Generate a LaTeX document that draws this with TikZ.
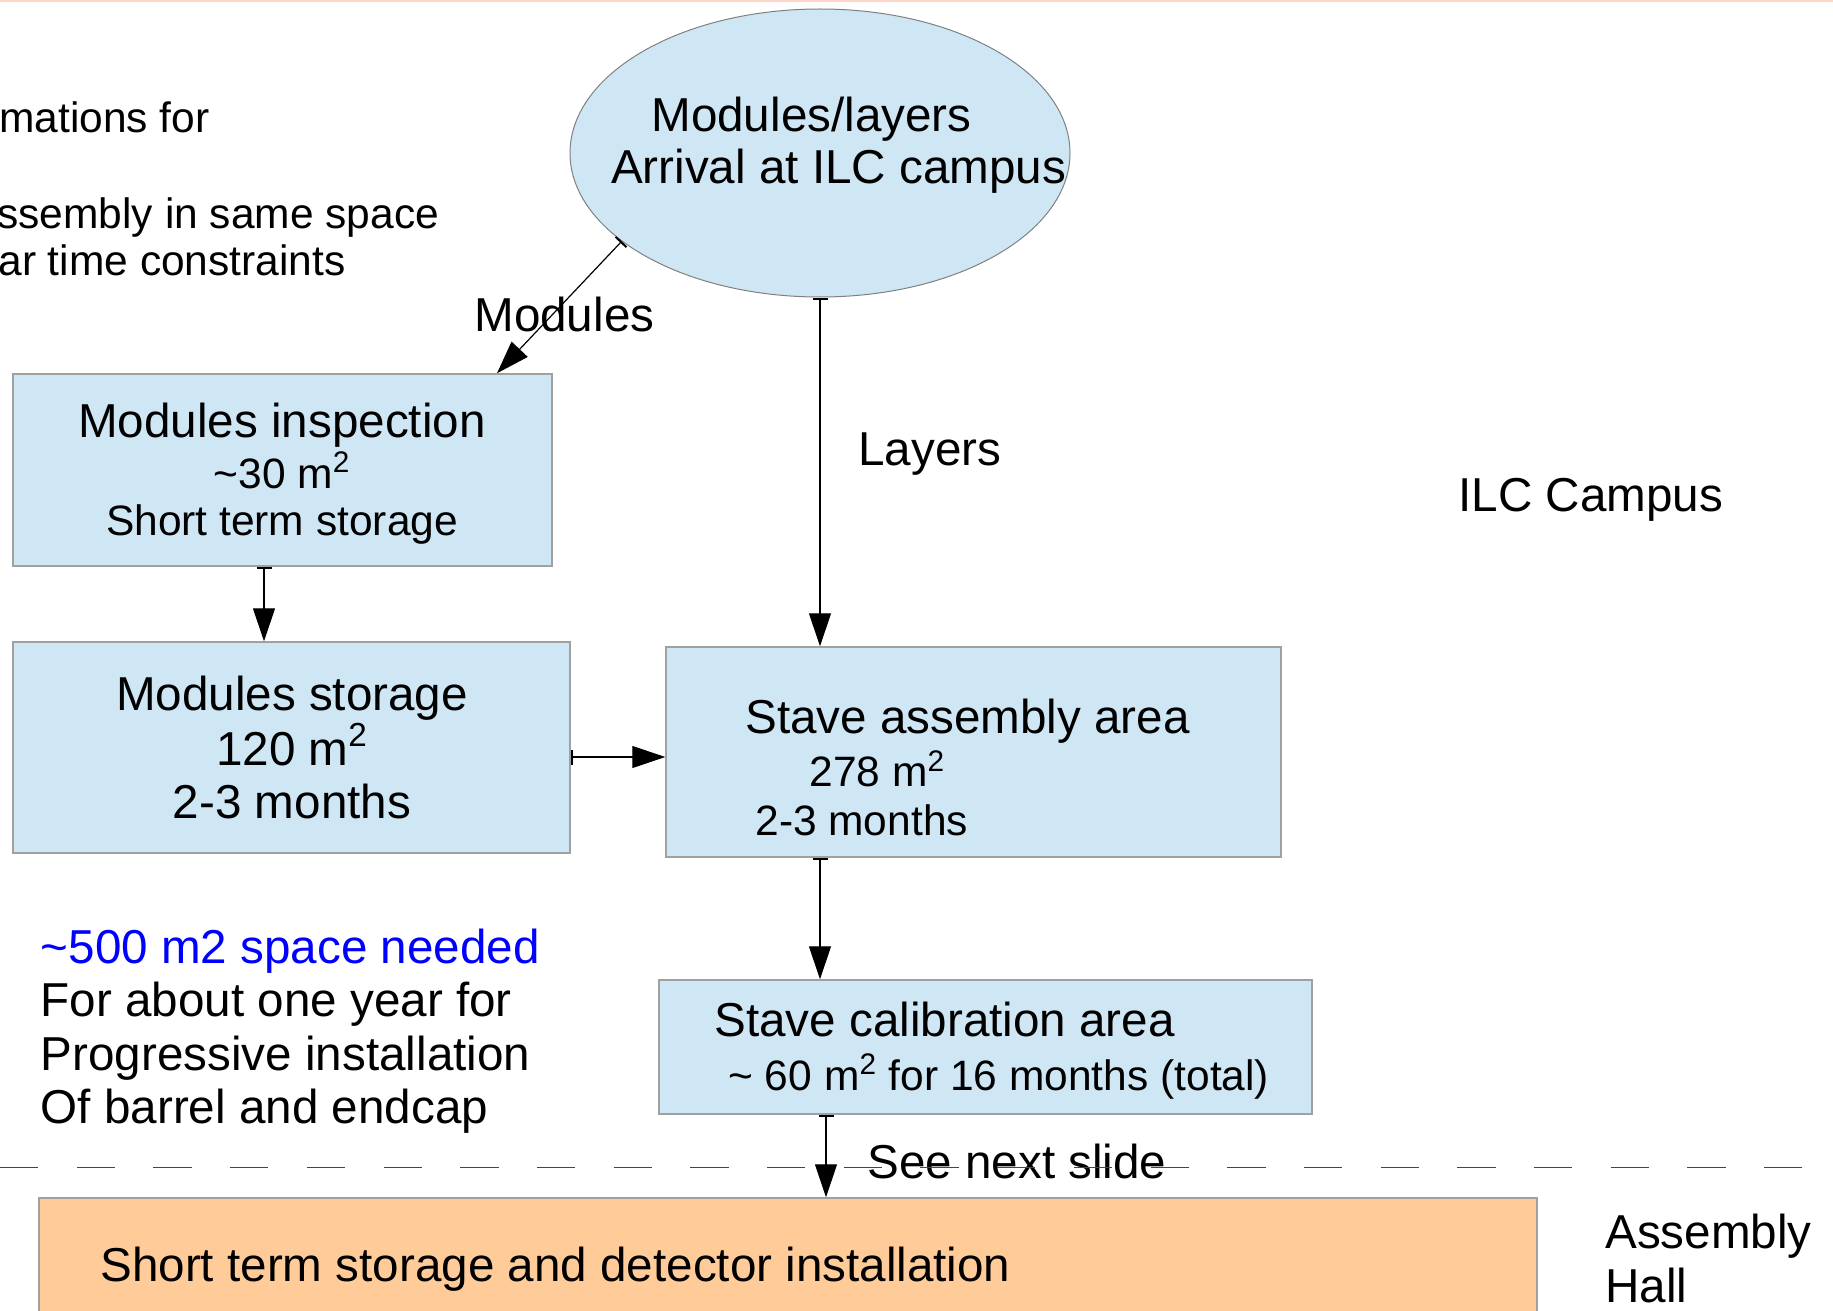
\documentclass[tikz,border=0pt]{standalone}
\usepackage{fontspec}
\setmainfont{Liberation Sans}
\usetikzlibrary{arrows.meta,shapes.geometric,calc}
\definecolor{boxblue}{RGB}{207,231,245}
\definecolor{boxorange}{RGB}{255,204,153}
\definecolor{boxline}{RGB}{160,160,160}
\definecolor{ellline}{RGB}{128,128,128}
\definecolor{topline}{RGB}{255,213,198}
\definecolor{dashgray}{RGB}{70,70,70}
\definecolor{bluetext}{RGB}{0,0,255}
\newcommand{\szL}{\fontsize{23.8pt}{28pt}\selectfont}
\newcommand{\szS}{\fontsize{21.25pt}{25pt}\selectfont}
\newcommand{\sqm}{m\textsuperscript{2}}
\tikzset{
  box/.style={rectangle, draw=boxline, line width=0.75pt, fill=boxblue, inner sep=0pt},
  txt/.style={inner sep=0pt, anchor=base west, font=\szL},
  txtc/.style={inner sep=0pt, anchor=base, font=\szL},
  conn/.style={line width=0.6pt, arrows={Bar[width=7.5pt,line width=1pt]-Triangle[length=16.5pt,width=11pt]}}
}
\begin{document}
\begin{tikzpicture}[x=0.5pt,y=-0.5pt]
\useasboundingbox (0,0) rectangle (1833,1311);
\draw[topline, line width=1pt] (0,1) -- (1833,1);

% top-left cut text
\node[txt, font=\szS] (tl1) at (-1,132.5) {mations for};
\node[txt, font=\szS] (tl2) at (-3,228.5) {ssembly in same space};
\node[txt, font=\szS] (tl3) at (-2,275) {ar time constraints};

% ellipse
\node[ellipse, draw=ellline, line width=0.5pt, fill=boxblue, minimum width=250pt, minimum height=144pt, inner sep=0pt] (arr) at (820,153) {};
\node[txt] (arr1) at (651,131.7) {Modules/layers};
\node[txt] (arr2) at (610.7,184) {Arrival at ILC campus};

% boxes
\node[box, minimum width=269.5pt, minimum height=96pt] (insp) at (282.5,470) {};
\node[txtc] (insp1) at (282,437) {Modules inspection};
\node[txtc, font=\szS] (insp2) at (282,488) {\textasciitilde30 \sqm};
\node[txtc, font=\szS] (insp3) at (282,535) {Short term storage};

\node[box, minimum width=278.5pt, minimum height=105.5pt] (stor) at (291.5,747.5) {};
\node[txtc] (stor1) at (292,710) {Modules storage};
\node[txtc] (stor2) at (292,765) {120 \sqm};
\node[txtc] (stor3) at (292,818) {2-3 months};

\node[box, minimum width=307.5pt, minimum height=105pt] (stave) at (973.5,752) {};
\node[txtc] (stave1) at (967.5,733) {Stave assembly area};
\node[txt, font=\szS] (stave2) at (809,786.7) {278 \sqm};
\node[txt, font=\szS] (stave3) at (755,835) {2-3 months};

\node[box, minimum width=326.5pt, minimum height=67pt] (calib) at (985.5,1047) {};
\node[txt] (calib1) at (714,1036.7) {Stave calibration area};
\node[txt, font=\szS] (calib2) at (728,1090) {\textasciitilde{} 60 \sqm{} for 16 months (total)};

\node[box, fill=boxorange, minimum width=749pt, minimum height=71pt] (orng) at (788,1269) {};
\node[txt] (orng1) at (100,1281) {Short term storage and detector installation};

% labels
\node[txt] (lmod) at (474,331) {Modules};
\node[txt] (llay) at (858,465) {Layers};
\node[txt] (lilc) at (1458,511.7) {ILC Campus};
\node[txt, text=bluetext] (need1) at (40.5,963.3) {\textasciitilde500 m2 space needed};
\node[txt] (need2) at (40.5,1016.7) {For about one year for};
\node[txt] (need3) at (40.5,1070) {Progressive installation};
\node[txt] (need4) at (40.5,1123.3) {Of barrel and endcap};
\node[txt] (lhall1) at (1605,1248) {Assembly};
\node[txt] (lhall2) at (1605,1302) {Hall};
\node[txt] (lnext) at (867,1178) {See next slide};

% dashed separator
\coordinate (dl) at (0,1167.7);
\coordinate (dr) at (1833,1167.7);
\draw[dashgray, line width=0.7pt, dash pattern=on 19.15pt off 19.2pt] (dl) -- (dr);

% connectors
\draw[conn] (arr.204.4) -- ([xshift=107.25pt]insp.north);
\draw[conn] (arr.south) -- (arr.south |- stave.north);
\draw[conn] ([xshift=-9.25pt]insp.south) -- ([xshift=-9.25pt]insp.south |- stor.north);
\draw[conn] ([yshift=-4.75pt]stor.east) -- ([yshift=-4.75pt]stor.east -| stave.west);
\draw[conn] (arr.south |- stave.south) -- (arr.south |- calib.north);
\draw[conn] ([xshift=-79.75pt]calib.south) -- ([xshift=-79.75pt]calib.south |- orng.north);
\end{tikzpicture}
\end{document}
